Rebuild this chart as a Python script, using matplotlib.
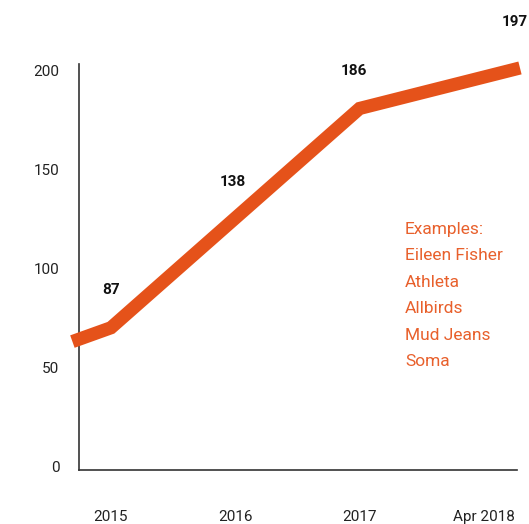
import matplotlib
matplotlib.use("Agg")
import matplotlib.pyplot as plt

# tick labels along the bottom
periods = ["2015", "2016", "2017", "Apr 2018"]

# line as drawn (x in period index units, y in count)
line_x = [-0.31, 0.0, 2.0, 3.29]
line_y = [63, 70, 181, 201.5]

# value labels shown above the line
label_vals = ["87", "138", "186", "197"]
label_x = [0.0, 0.98, 1.95, 3.25]
label_y = [89, 144, 200, 225]

examples = ["Eileen Fisher", "Athleta", "Allbirds", "Mud Jeans", "Soma"]

orange = "#E5521A"
plt.rcParams['font.family'] = ['Roboto', 'DejaVu Sans']

fig = plt.figure(figsize=(5.29, 5.24), dpi=100)
W, H = 529, 524
ax = fig.add_axes([79 / W, 1 - 470 / H, (517 - 79) / W, (470 - 64) / H])

ax.plot(line_x, line_y, color=orange, lw=9.5, solid_joinstyle='miter',
        solid_capstyle='butt', clip_on=False, zorder=3)

for x, y, t in zip(label_x, label_y, label_vals):
    ax.text(x, y, t, ha='center', va='center', fontsize=11,
            fontweight='bold', color='#111111')

ax.text(2.365, 123.5, "Examples:\n" + "\n".join(examples), ha='left', va='top',
        fontsize=12.5, color='#E8602C', linespacing=1.95)

ax.set_xlim(-0.257, 3.266)
ax.set_ylim(-2, 203.5)
ax.set_xticks(range(len(periods)))
ax.set_xticklabels(periods)
ax.set_yticks([0, 50, 100, 150, 200])
ax.tick_params(axis='both', length=0, labelsize=11, colors='#222222')
ax.tick_params(axis='y', pad=14)
ax.tick_params(axis='x', pad=29)
for s in ['top', 'right']:
    ax.spines[s].set_visible(False)
for s in ['left', 'bottom']:
    ax.spines[s].set_color('#333333')
    ax.spines[s].set_linewidth(1.2)

fig.savefig("out.png", dpi=100)
